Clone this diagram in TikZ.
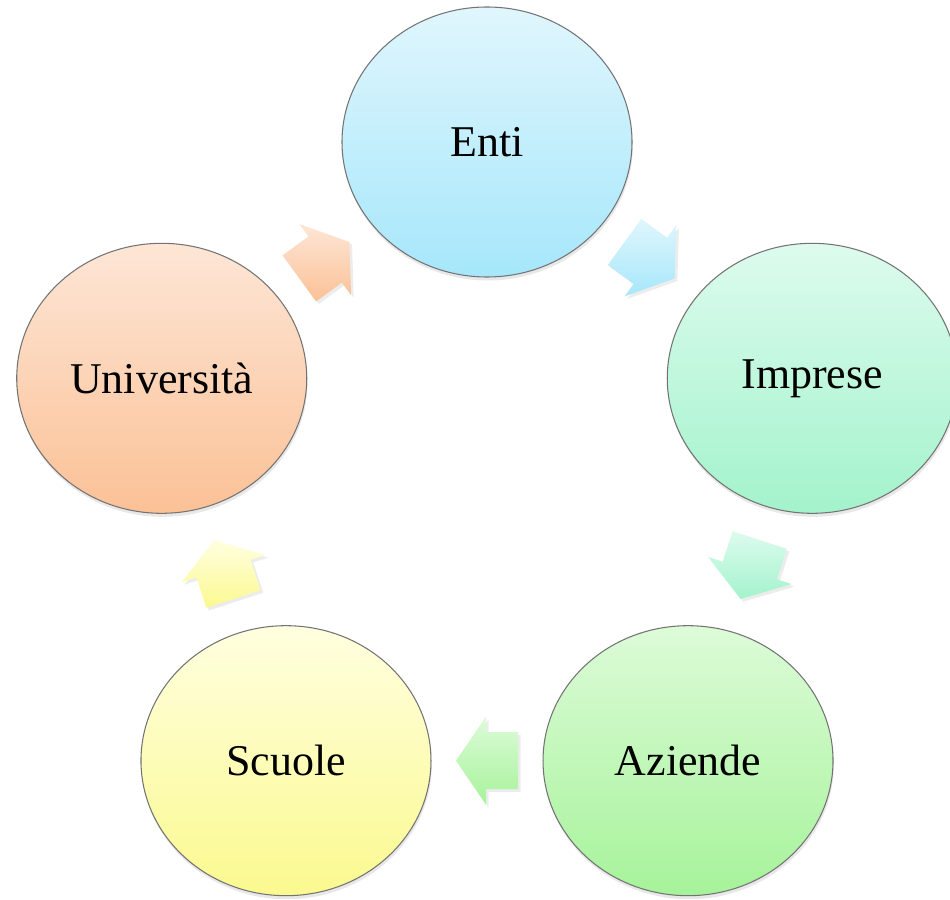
\documentclass[tikz,border=0pt]{standalone}
\usepackage{fontspec}
\setmainfont{Liberation Serif}
\usepackage{xcolor}
\usetikzlibrary{shapes.geometric,shadows,calc}

\definecolor{entitop}{HTML}{E0F6FD}
\definecolor{entibot}{HTML}{A6E7FB}
\definecolor{imprtop}{HTML}{DDFBEE}
\definecolor{imprbot}{HTML}{A3F3CC}
\definecolor{azietop}{HTML}{DDFBD8}
\definecolor{aziebot}{HTML}{A6F39A}
\definecolor{scuotop}{HTML}{FFFFE0}
\definecolor{scuobot}{HTML}{FBF98F}
\definecolor{univtop}{HTML}{FDE6D6}
\definecolor{univbot}{HTML}{FBC196}

\begin{document}
\begin{tikzpicture}[
    circ/.style={shape=ellipse, draw=gray!90!black, line width=0.6pt, inner sep=0pt,
      minimum width=5.8cm, minimum height=5.4cm,
      font=\fontsize{25}{30}\selectfont,
      drop shadow={opacity=0.18, shadow xshift=0.5pt, shadow yshift=-2pt}},
    blockarr/.style={draw=none,
      drop shadow={opacity=0.15, shadow xshift=1.5pt, shadow yshift=-1.5pt}}]
    \useasboundingbox (-9.74,-8.3) rectangle (9.26,9.68);

    % the five partners
    \foreach \name/\txt/\ang in {enti/Enti/90, impr/Imprese/18, azie/Aziende/-54,
        scuo/Scuole/-126, univ/Università/162}
      \node[circ, top color=\name top, bottom color=\name bot] (\name) at (\ang:6.84) {\txt};

    % block arrows between them
    \foreach \from/\to/\ang in {enti/impr/-36, impr/azie/-108, azie/scuo/180,
        scuo/univ/108, univ/enti/36} {
      \coordinate (\from-\to) at ($(\from)!0.5!(\to)$);
      \shade[blockarr, top color=\from top, bottom color=\from bot,
          shift={(\from-\to)}, rotate=\ang]
        (-0.62,-0.57) -- (0.02,-0.57) -- (0.02,-0.88) -- (0.62,0)
        -- (0.02,0.88) -- (0.02,0.57) -- (-0.62,0.57) -- cycle;
    }
\end{tikzpicture}
\end{document}
